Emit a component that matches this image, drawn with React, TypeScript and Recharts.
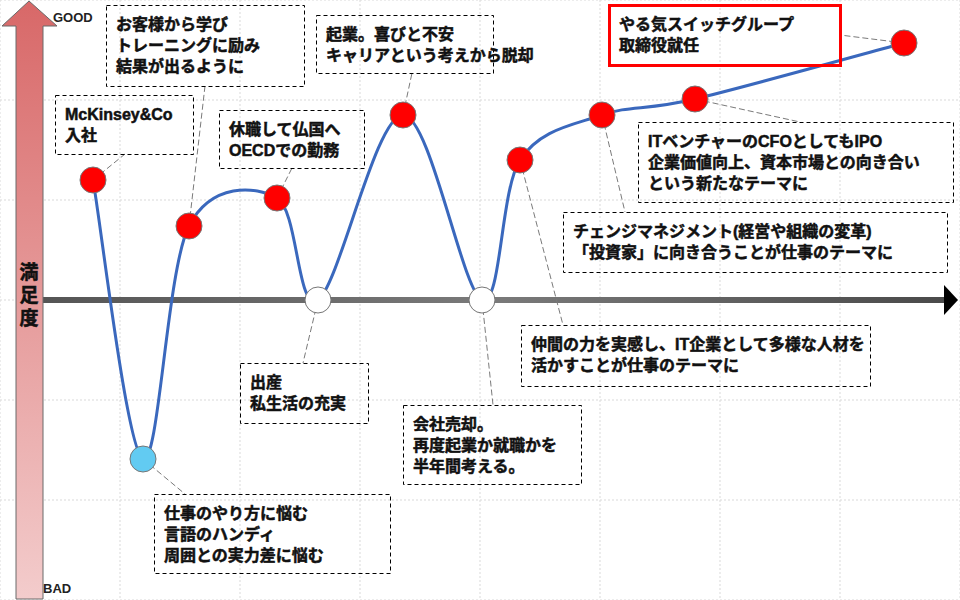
import React from 'react';
import { ComposedChart, Line, XAxis, YAxis, CartesianGrid, ReferenceLine } from 'recharts';

// career timeline (arbitrary time units) and satisfaction score
const timeline = [9.3, 14.3, 18.9, 27.7, 31.8, 40.3, 48.2, 52.0, 60.2, 69.5, 90.4];
const satisfaction = [60, -79.5, 37, 51, 0, 92.5, 0, 70, 92.5, 100.5, 128.5];
const moods = ['up', 'down', 'up', 'up', 'flat', 'up', 'flat', 'up', 'up', 'up', 'up'];
const events = [
  ['McKinsey&Co', '入社'],
  ['仕事のやり方に悩む', '言語のハンディ', '周囲との実力差に悩む'],
  ['お客様から学び', 'トレーニングに励み', '結果が出るように'],
  ['休職して仏国へ', 'OECDでの勤務'],
  ['出産', '私生活の充実'],
  ['起業。喜びと不安', 'キャリアという考えから脱却'],
  ['会社売却。', '再度起業か就職かを', '半年間考える。'],
  ['仲間の力を実感し、IT企業として多様な人材を', '活かすことが仕事のテーマに'],
  ['チェンジマネジメント(経営や組織の変革)', '「投資家」に向き合うことが仕事のテーマに'],
  ['ITベンチャーのCFOとしてもIPO', '企業価値向上、資本市場との向き合い', 'という新たなテーマに'],
  ['やる気スイッチグループ', '取締役就任'],
];
const xTicks = [0, 12, 24, 36, 48, 60, 72, 84, 96];
const yTicks = [-150, -100, -50, 0, 50, 100, 150];

const data = timeline.map((t, i) => ({ t, v: satisfaction[i] }));

// where each callout box sits (pixels) and where its leader line ends
const boxes = [
  { x: 55, y: 95, w: 138, h: 59, ax: 125, ay: 154 },
  { x: 154, y: 494, w: 236, h: 79, ax: 185, ay: 494 },
  { x: 106, y: 5, w: 198, h: 81, ax: 205, ay: 86 },
  { x: 219, y: 110, w: 145, h: 58, ax: 292, ay: 168 },
  { x: 240, y: 363, w: 128, h: 60, ax: 303, ay: 363 },
  { x: 316, y: 15, w: 177, h: 58, ax: 412, ay: 73 },
  { x: 403, y: 405, w: 178, h: 79, ax: 493, ay: 405 },
  { x: 521, y: 325, w: 349, h: 61, ax: 563, ay: 325 },
  { x: 563, y: 212, w: 384, h: 60, ax: 625, ay: 212 },
  { x: 638, y: 122, w: 315, h: 80, ax: 800, ay: 122 },
  { x: 609, y: 5, w: 231, h: 60, ax: 840, ay: 35 },
];

const FONT = '"Liberation Sans", Arial, "Noto Sans CJK JP", sans-serif';
const moodFill: Record<string, string> = { up: '#ff0000', down: '#62cbf2', flat: '#ffffff' };

// Excel-like smoothed line (cardinal spline)
const excelSmooth = (context: any) => {
  let pts: number[][] = [];
  return {
    areaStart() {},
    areaEnd() {},
    lineStart() {
      pts = [];
    },
    lineEnd() {
      if (!pts.length) return;
      context.moveTo(pts[0][0], pts[0][1]);
      for (let i = 0; i < pts.length - 1; i++) {
        const p0 = pts[Math.max(0, i - 1)];
        const p1 = pts[i];
        const p2 = pts[i + 1];
        const p3 = pts[Math.min(pts.length - 1, i + 2)];
        context.bezierCurveTo(
          p1[0] + (p2[0] - p0[0]) / 6,
          p1[1] + (p2[1] - p0[1]) / 6,
          p2[0] - (p3[0] - p1[0]) / 6,
          p2[1] - (p3[1] - p1[1]) / 6,
          p2[0],
          p2[1]
        );
      }
    },
    point(x: number, y: number) {
      pts.push([+x, +y]);
    },
  };
};

const renderNote = (p: any) => {
  const b = boxes[p.index];
  const hi = p.index === 10;
  return (
    <g key={`note-${p.index}`}>
      <line x1={p.cx} y1={p.cy} x2={b.ax} y2={b.ay} stroke="#7a7a7a" strokeDasharray="6 3" />
      <rect
        x={b.x + 0.5}
        y={b.y + 0.5}
        width={b.w}
        height={b.h}
        fill="none"
        stroke={hi ? '#ff0000' : '#000'}
        strokeWidth={hi ? 3 : 1}
        strokeDasharray={hi ? undefined : '4 3'}
      />
      {events[p.index].map((s, i) => (
        <text
          key={i}
          x={b.x + 10}
          y={b.y + 19 + i * 21}
          dominantBaseline="central"
          fontFamily={FONT}
          fontWeight="bold"
          fontSize={16}
          fill="#111"
          stroke="#111"
          strokeWidth={0.5}
        >
          {s}
        </text>
      ))}
    </g>
  );
};

const renderDot = (p: any) => (
  <circle
    key={`dot-${p.index}`}
    cx={p.cx}
    cy={p.cy}
    r={13}
    fill={moodFill[moods[p.index]]}
    stroke="#767676"
    strokeWidth={1}
  />
);

const AxisArrow = (p: any) => {
  const { x1, y1, x2 } = p;
  return (
    <g>
      <defs>
        <linearGradient id="axisGrad" x1="0" y1="0" x2="1" y2="0">
          <stop offset="0" stopColor="#555" />
          <stop offset="0.5" stopColor="#7a7a7a" />
          <stop offset="1" stopColor="#4a4a4a" />
        </linearGradient>
      </defs>
      <rect x={x1} y={y1 - 3} width={x2 - x1} height={6} fill="url(#axisGrad)" />
      <polygon points={`${x2},${y1 - 15} ${x2 + 14},${y1} ${x2},${y1 + 15}`} fill="#000" />
    </g>
  );
};

const App: React.FC = () => {
  return (
    <div style={{ position: 'absolute', left: 0, top: 0, width: 960, height: 600, background: '#fff' }}>
      <ComposedChart width={960} height={600} data={data} margin={{ top: 0, right: 0, bottom: 0, left: 0 }}>
        <CartesianGrid stroke="#d9d9d9" strokeDasharray="2 2" />
        <XAxis dataKey="t" type="number" domain={[0, 96]} ticks={xTicks} hide />
        <YAxis type="number" domain={[-150, 150]} ticks={yTicks} hide />
        <ReferenceLine
          segment={[{ x: 4.3, y: 0 }, { x: 94.4, y: 0 }]}
          shape={AxisArrow}
          zIndex={-50}
        />
        <Line
          dataKey="v"
          stroke="none"
          dot={renderNote}
          activeDot={false}
          isAnimationActive={false}
        />
        <Line
          dataKey="v"
          type={excelSmooth as any}
          stroke="#3a68bd"
          strokeWidth={3}
          dot={renderDot}
          activeDot={false}
          isAnimationActive={false}
        />
      </ComposedChart>

      <svg width={960} height={600} style={{ position: 'absolute', left: 0, top: 0, pointerEvents: 'none' }}>
        <defs>
          <linearGradient id="goodBad" x1="0" y1="0" x2="0" y2="1">
            <stop offset="0" stopColor="#d86868" />
            <stop offset="1" stopColor="#f3cccc" />
          </linearGradient>
        </defs>
        <polygon
          points="16,599 16,26 2,26 29,1 57,26 43,26 43,599"
          fill="url(#goodBad)"
          stroke="#6b6b6b"
          strokeWidth={1}
        />
        <text x={53} y={22} fontFamily={FONT} fontWeight="bold" fontSize={13} fill="#222">GOOD</text>
        <text x={43} y={593} fontFamily={FONT} fontWeight="bold" fontSize={13} fill="#222">BAD</text>
        {['満', '足', '度'].map((c, i) => (
          <text
            key={c}
            x={29}
            y={272 + i * 23}
            textAnchor="middle"
            dominantBaseline="central"
            fontFamily={FONT}
            fontWeight="bold"
            fontSize={19}
            fill="#111"
            stroke="#111"
            strokeWidth={0.5}
          >
            {c}
          </text>
        ))}
      </svg>
    </div>
  );
};

export default App;
